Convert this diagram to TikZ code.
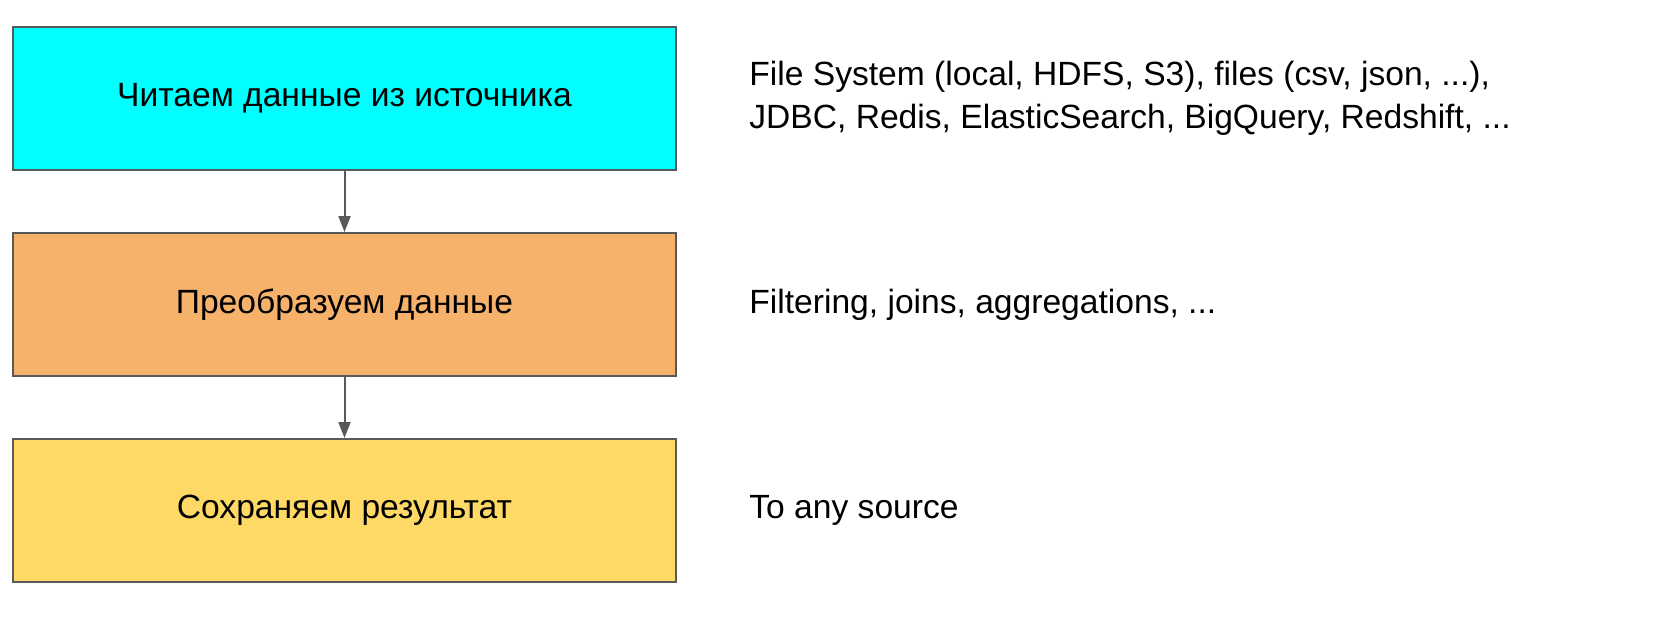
\documentclass[tikz,border=0pt]{standalone}
\usepackage{fontspec}
\setmainfont{Liberation Sans}
\usetikzlibrary{positioning,arrows.meta}
\definecolor{edgegray}{HTML}{595959}
\definecolor{readcyan}{HTML}{00FFFF}
\definecolor{maporange}{HTML}{F6B26B}
\definecolor{saveyellow}{HTML}{FFD966}
\tikzset{
  stage/.style={draw=edgegray,line width=1pt,minimum width=331.5pt,minimum height=71.5pt,
    inner sep=0pt,font=\fontsize{16.8}{21.5}\selectfont},
  note/.style={anchor=west,inner sep=0pt,align=left,font=\fontsize{16.8}{21.5}\selectfont},
  flow/.style={draw=edgegray,line width=1pt,-{Triangle[length=8pt,width=6pt]}}
}
\begin{document}
\begin{tikzpicture}[x=0.5pt,y=-0.5pt]
\useasboundingbox (0,0) rectangle (1673,634);
%\draw[gray,very thin] (0,0) grid[step=100] (1673,634);
\node[stage,fill=readcyan] (read) at (344.5,98.5) {Читаем данные из источника};
\node[stage,fill=maporange,below=30.5pt of read] (transform) {Преобразуем данные};
\node[stage,fill=saveyellow,below=30.5pt of transform] (save) {Сохраняем результат};
\draw[flow] (read) -- (transform);
\draw[flow] (transform) -- (save);
\node[note,right=36pt of read] (sources) {File System (local, HDFS, S3), files (csv, json, ...),\\
JDBC, Redis, ElasticSearch, BigQuery, Redshift, ...};
\node[note,right=36pt of transform] (ops) {Filtering, joins, aggregations, ...};
\node[note,right=36pt of save] (sink) {To any source};
\end{tikzpicture}
\end{document}
